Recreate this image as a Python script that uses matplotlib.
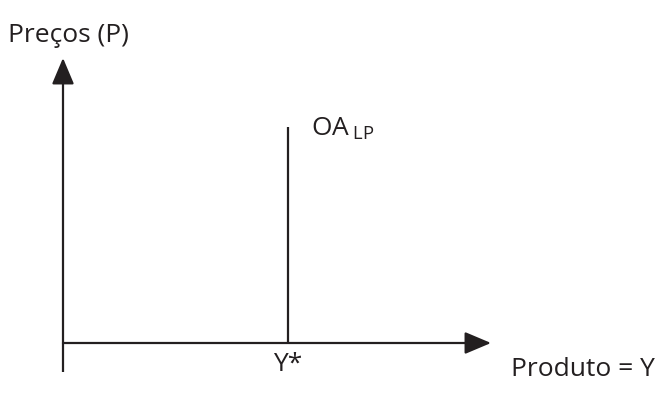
import matplotlib.pyplot as plt

plt.rcParams['font.family'] = ['Open Sans', 'DejaVu Sans']
plt.rcParams['mathtext.fontset'] = 'custom'
plt.rcParams['mathtext.rm'] = 'Open Sans'

# Long-run aggregate supply diagram (vertical at potential output)
AXIS_X_END = 428      # length of the output axis
AXIS_Y_END = 285      # length of the price axis
AXIS_Y_BELOW = -29    # price axis runs a little below the origin
Y_STAR = 225          # potential output
OA_TOP = 216          # top of the long-run supply curve

axis_labels = ['Preços (P)', 'Produto = Y']
curve_label = r'OA$\,_{\mathregular{LP}}$'
tick_label = 'Y*'

INK = '#231f20'

fig = plt.figure(figsize=(6.59, 4.04), dpi=100)
ax = fig.add_axes([0, 0, 1, 1])
ax.set_xlim(-63, 596)
ax.set_ylim(-61, 343)
ax.axis('off')

arrow = dict(arrowstyle='-|>,head_length=0.9,head_width=0.38',
             color=INK, lw=1.6, mutation_scale=18, shrinkA=0, shrinkB=0)

# price axis
ax.plot([0, 0], [AXIS_Y_BELOW, 0], color=INK, lw=1.6, solid_capstyle='butt')
ax.annotate('', xy=(0, AXIS_Y_END), xytext=(0, 0), arrowprops=arrow)
# output axis
ax.annotate('', xy=(AXIS_X_END, 0), xytext=(0, 0), arrowprops=arrow)

# long-run supply curve
ax.plot([Y_STAR, Y_STAR], [0, OA_TOP], color=INK, lw=1.6, solid_capstyle='butt')

ax.text(-55, 308, axis_labels[0], fontsize=19, color=INK, va='center', ha='left')
ax.text(592, -27, axis_labels[1], fontsize=19, color=INK, va='center', ha='right')
ax.text(248, 214, curve_label, fontsize=19, color=INK, va='center', ha='left')
ax.text(Y_STAR, -9, tick_label, fontsize=19, color=INK, va='top', ha='center')

fig.savefig('out.png', dpi=100)
